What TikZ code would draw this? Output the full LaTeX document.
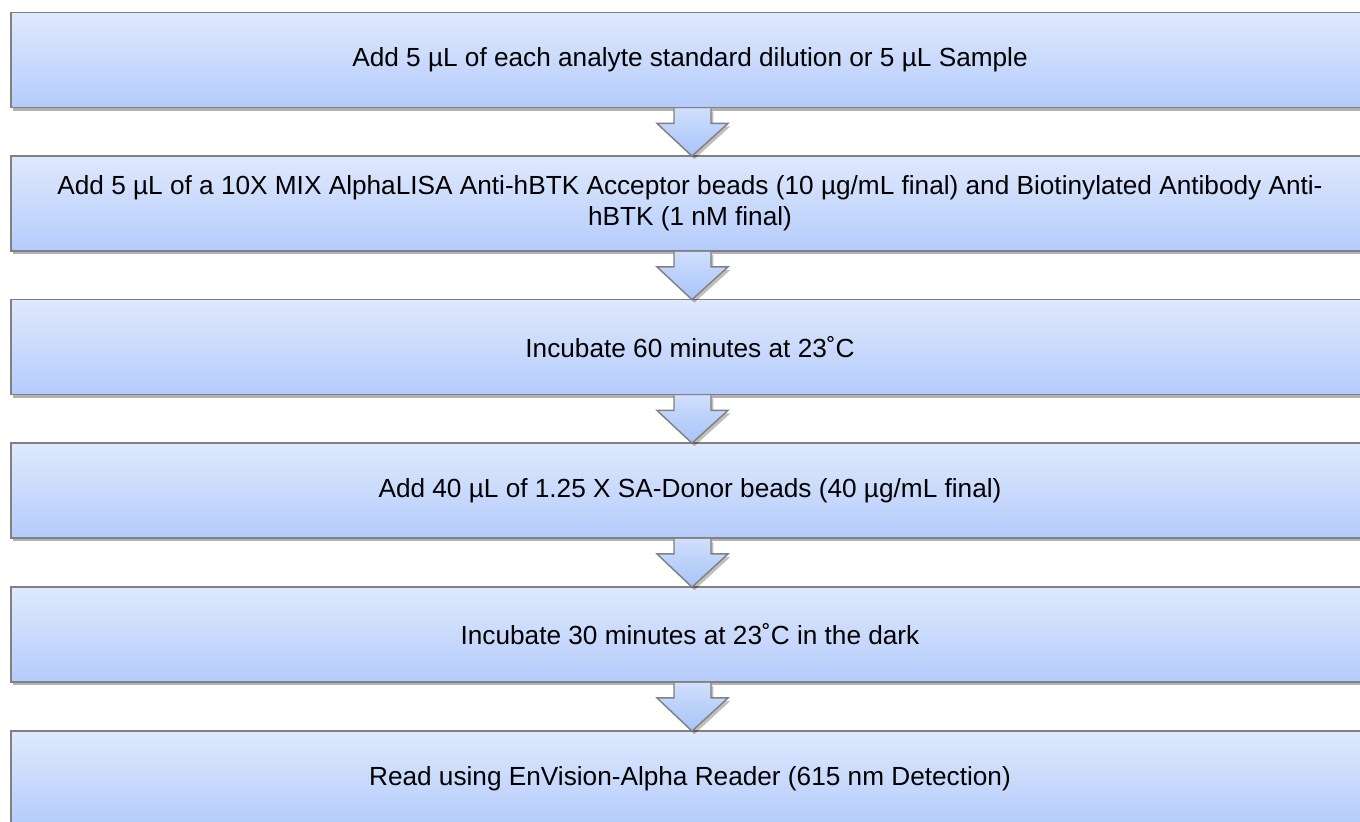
\documentclass[tikz,border=0pt]{standalone}
\usepackage{fontspec}
\setmainfont{Liberation Sans}
\usetikzlibrary{calc,shadows}

\definecolor{boxline}{RGB}{128,128,128}
\definecolor{boxtop}{RGB}{223,233,253}
\definecolor{boxbot}{RGB}{180,203,251}
\definecolor{arrtop}{RGB}{208,222,252}
\definecolor{arrbot}{RGB}{166,195,248}

\tikzset{
  stepbox/.style={draw=boxline, line width=0.9pt, top color=boxtop, bottom color=boxbot,
    minimum width=679pt, minimum height=47.5pt, inner sep=0pt, align=center,
    font=\fontsize{13.1}{15.5}\selectfont,
    drop shadow={shadow xshift=1.2pt, shadow yshift=-1.5pt, opacity=0.3, fill=black}},
  downarrow/.style={draw=boxline, line width=0.7pt, top color=arrtop, bottom color=arrbot,
    line join=miter,
    drop shadow={shadow xshift=1.2pt, shadow yshift=-1.5pt, opacity=0.25, fill=black}}
}

\begin{document}
\begin{tikzpicture}[x=0.5pt,y=0.5pt,yscale=-1,xscale=1]
\clip (0,0) rectangle (1360,821);
\fill[white] (0,0) rectangle (1360,821);

% Step boxes
\node[stepbox] (b1) at (690,60) {Add 5 µL of each analyte standard dilution or 5 µL Sample};
\node[stepbox] (b2) at (690,203.5) {Add 5 µL of a 10X MIX AlphaLISA Anti-hBTK Acceptor beads (10 µg/mL final) and Biotinylated Antibody Anti-\\hBTK (1 nM final)};
\node[stepbox] (b3) at (690,347) {Incubate 60 minutes at 23˚C};
\node[stepbox] (b4) at (690,490.5) {Add 40 µL of 1.25 X SA-Donor beads (40 µg/mL final)};
\node[stepbox] (b5) at (690,634.5) {Incubate 30 minutes at 23˚C in the dark};
\node[stepbox] (b6) at (690,778.5) {Read using EnVision-Alpha Reader (615 nm Detection)};

%Shape: Down Arrow
\draw[downarrow] ($(b1.south)+(-16,0)$) -- ++(0,15) -- ++(-17,0) -- ($(b2.north)+(2,1)$) -- ($(b1.south)+(38,15)$) -- ++(-17,0) -- ++(0,-15) ;
%Shape: Down Arrow
\draw[downarrow] ($(b2.south)+(-16,0)$) -- ++(0,15) -- ++(-17,0) -- ($(b3.north)+(2,1)$) -- ($(b2.south)+(38,15)$) -- ++(-17,0) -- ++(0,-15) ;
%Shape: Down Arrow
\draw[downarrow] ($(b3.south)+(-16,0)$) -- ++(0,15) -- ++(-17,0) -- ($(b4.north)+(2,1)$) -- ($(b3.south)+(38,15)$) -- ++(-17,0) -- ++(0,-15) ;
%Shape: Down Arrow
\draw[downarrow] ($(b4.south)+(-16,0)$) -- ++(0,15) -- ++(-17,0) -- ($(b5.north)+(2,1)$) -- ($(b4.south)+(38,15)$) -- ++(-17,0) -- ++(0,-15) ;
%Shape: Down Arrow
\draw[downarrow] ($(b5.south)+(-16,0)$) -- ++(0,15) -- ++(-17,0) -- ($(b6.north)+(2,1)$) -- ($(b5.south)+(38,15)$) -- ++(-17,0) -- ++(0,-15) ;

\end{tikzpicture}
\end{document}
